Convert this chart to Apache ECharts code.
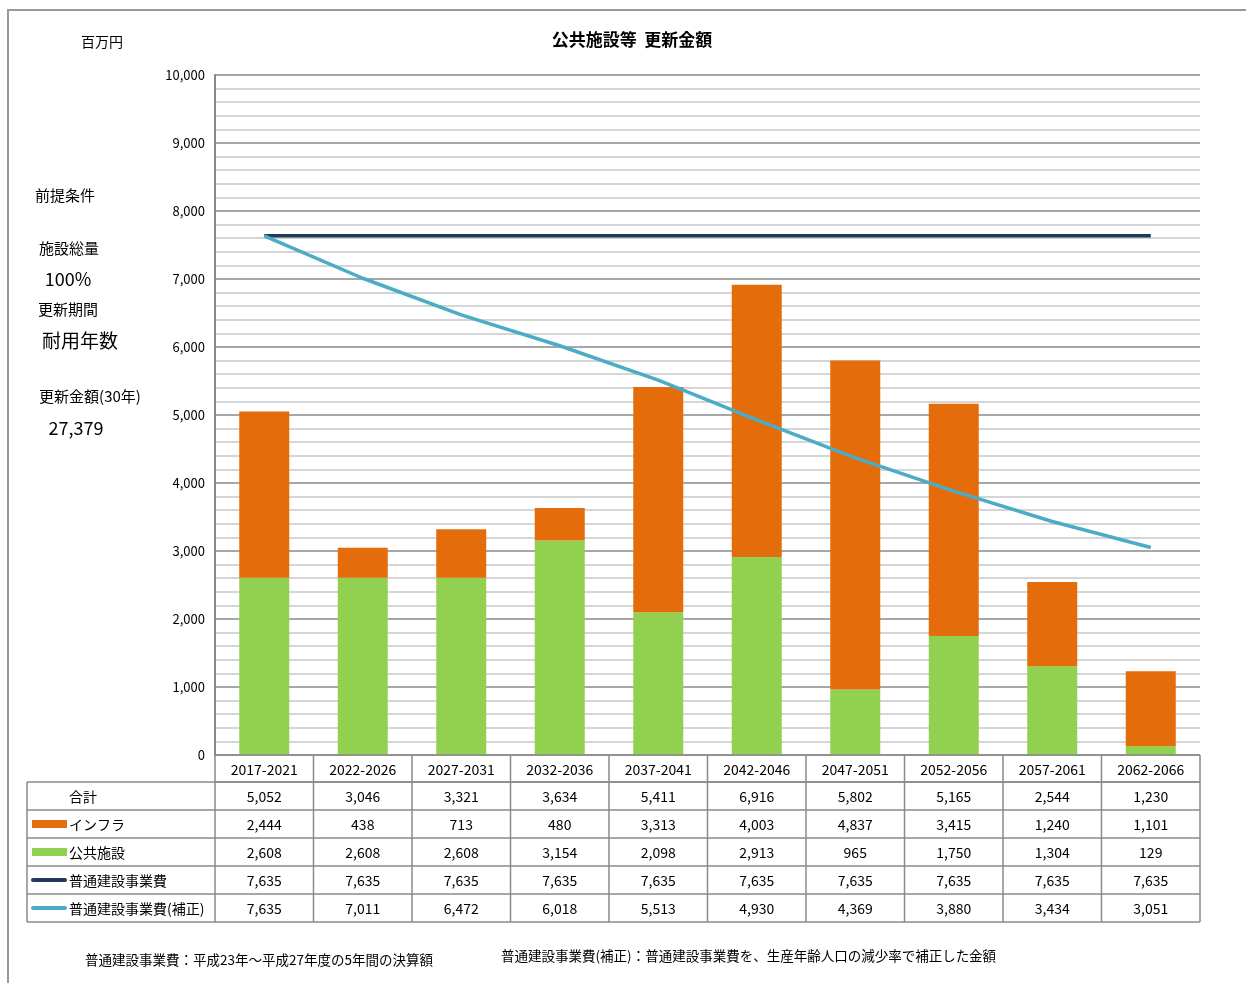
<!DOCTYPE html>
<html>
<head>
<meta charset="utf-8">
<script src="https://cdn.jsdelivr.net/npm/echarts@6/dist/echarts.min.js"></script>
<style>
html,body{margin:0;padding:0;background:#fff;}
#main{width:1246px;height:983px;}
</style>
</head>
<body>
<div id="main"></div>
<script>
const categories = ['2017-2021','2022-2026','2027-2031','2032-2036','2037-2041','2042-2046','2047-2051','2052-2056','2057-2061','2062-2066'];
const totals     = [5052, 3046, 3321, 3634, 5411, 6916, 5802, 5165, 2544, 1230];
const infra      = [2444, 438, 713, 480, 3313, 4003, 4837, 3415, 1240, 1101];
const publicFac  = [2608, 2608, 2608, 3154, 2098, 2913, 965, 1750, 1304, 129];
const baseCost   = [7635, 7635, 7635, 7635, 7635, 7635, 7635, 7635, 7635, 7635];
const adjCost    = [7635, 7011, 6472, 6018, 5513, 4930, 4369, 3880, 3434, 3051];
const rowLabels  = ['合計', 'インフラ', '公共施設', '普通建設事業費', '普通建設事業費(補正)'];
const yTickMin = 0, yTickMax = 10000, yTickStep = 1000;

const COL_INFRA = '#E46C0A', COL_PUB = '#92D050', COL_BASE = '#1F3A5F', COL_ADJ = '#4BACC6';
const FONT = '"Noto Sans CJK JP", sans-serif';
const fmt = v => v.toLocaleString('en-US');

const chart = echarts.init(document.getElementById('main'), null, {renderer: 'canvas'});
const gridLeft = 215, gridTop = 75, gridRight = 46, gridH = 680;

chart.setOption({
  backgroundColor: '#fff',
  animation: false,
  textStyle: {fontFamily: FONT},
  title: {
    text: '公共施設等  更新金額', left: 627, top: 26, textAlign: 'center',
    textStyle: {fontSize: 17, fontWeight: 'bold', color: '#000', fontFamily: FONT}
  },
  grid: {left: gridLeft, top: gridTop, right: gridRight, height: gridH},
  xAxis: {
    type: 'category', data: categories,
    axisLine: {show: false}, axisTick: {show: false}, axisLabel: {show: false},
    splitLine: {show: false}
  },
  yAxis: {
    type: 'value', min: yTickMin, max: yTickMax, interval: yTickStep,
    axisLine: {show: true, lineStyle: {color: '#888', width: 2}},
    axisTick: {show: false},
    axisLabel: {formatter: v => fmt(v), color: '#000', fontSize: 13, margin: 10, fontFamily: FONT},
    splitLine: {show: true, lineStyle: {color: '#8a8a8a', width: 1.5}},
    minorTick: {show: false, splitNumber: 5},
    minorSplitLine: {show: true, lineStyle: {color: '#c8c8c8', width: 1.5}}
  },
  series: [
    {name: '公共施設', type: 'bar', stack: 't', data: publicFac, barWidth: 50,
     itemStyle: {color: COL_PUB}},
    {name: 'インフラ', type: 'bar', stack: 't', data: infra, barWidth: 50,
     itemStyle: {color: COL_INFRA}},
    {name: '普通建設事業費', type: 'line', data: baseCost, symbol: 'none',
     lineStyle: {color: COL_BASE, width: 3.5}},
    {name: '普通建設事業費(補正)', type: 'line', data: adjCost, symbol: 'none',
     lineStyle: {color: COL_ADJ, width: 3.5}}
  ]
});

// Build table and annotations
const c0 = chart.convertToPixel({xAxisIndex: 0}, categories[0]);
const c1 = chart.convertToPixel({xAxisIndex: 0}, categories[1]);
const colW = c1 - c0;
const tblLeft = 27;
const plotLeft = c0 - colW / 2;
const plotRight = plotLeft + colW * categories.length;
const hdrTop = chart.convertToPixel({yAxisIndex: 0}, 0);
const rowH = 28;
const hdrBottom = hdrTop + 27;
const els = [];
const BORDER = '#8a8a8a';

function line(x1, y1, x2, y2, color, w) {
  els.push({type: 'line', shape: {x1, y1, x2, y2}, style: {stroke: color || BORDER, lineWidth: w || 1.5}, z: 10});
}
function text(x, y, t, size, align, weight) {
  els.push({type: 'text', style: {x, y, text: t, fontSize: size || 14, fill: '#000', align: align || 'center', verticalAlign: 'middle', fontFamily: FONT, fontWeight: weight || 'normal'}, z: 11});
}

// outer frame
els.push({type: 'rect', shape: {x: 8, y: 10, width: 1260, height: 1000}, style: {fill: 'none', stroke: '#999', lineWidth: 2}, z: 1});

// header row
line(plotLeft, hdrTop, plotRight, hdrTop);
line(plotLeft, hdrBottom, plotRight, hdrBottom);
categories.forEach((c, i) => text(c0 + i * colW, (hdrTop + hdrBottom) / 2 + 1, c, 14));

const rows = [totals, infra, publicFac, baseCost, adjCost];
const tblBottom = hdrBottom + rowH * rows.length;
for (let r = 0; r <= rows.length; r++) line(tblLeft, hdrBottom + r * rowH, plotRight, hdrBottom + r * rowH);
line(tblLeft, hdrBottom, tblLeft, tblBottom);
for (let i = 0; i <= categories.length; i++) line(plotLeft + i * colW, hdrTop, plotLeft + i * colW, tblBottom);

rows.forEach((arr, r) => {
  const cy = hdrBottom + r * rowH + rowH / 2 + 1;
  arr.forEach((v, i) => text(c0 + i * colW, cy, fmt(v), 14));
});
// row labels with legend keys
const labelX = 69;
text(83, hdrBottom + rowH / 2 + 1, rowLabels[0], 14);
const ry = r => hdrBottom + r * rowH + rowH / 2 + 1;
els.push({type: 'rect', shape: {x: 32, y: ry(1) - 5, width: 35, height: 8}, style: {fill: COL_INFRA}, z: 11});
els.push({type: 'rect', shape: {x: 32, y: ry(2) - 5, width: 35, height: 8}, style: {fill: COL_PUB}, z: 11});
els.push({type: 'line', shape: {x1: 33, y1: ry(3) - 1, x2: 65, y2: ry(3) - 1}, style: {stroke: COL_BASE, lineWidth: 4, lineCap: 'round'}, z: 11});
els.push({type: 'line', shape: {x1: 33, y1: ry(4) - 1, x2: 65, y2: ry(4) - 1}, style: {stroke: COL_ADJ, lineWidth: 4, lineCap: 'round'}, z: 11});
for (let r = 1; r < 5; r++) text(labelX, ry(r), rowLabels[r], 14, 'left');

// left annotations
text(102, 42, '百万円', 14);
text(65, 195, '前提条件', 15);
text(69, 248, '施設総量', 15);
text(68, 279, '100%', 18);
text(68, 309, '更新期間', 15);
text(80, 341, '耐用年数', 19);
text(90, 396, '更新金額(30年)', 15);
text(76, 428, '27,379', 18);

// footer
text(85, 960, '普通建設事業費：平成23年～平成27年度の5年間の決算額', 13.5, 'left');
text(501, 956, '普通建設事業費(補正)：普通建設事業費を、生産年齢人口の減少率で補正した金額', 13.5, 'left');

chart.setOption({graphic: {elements: els}});
</script>
</body>
</html>
